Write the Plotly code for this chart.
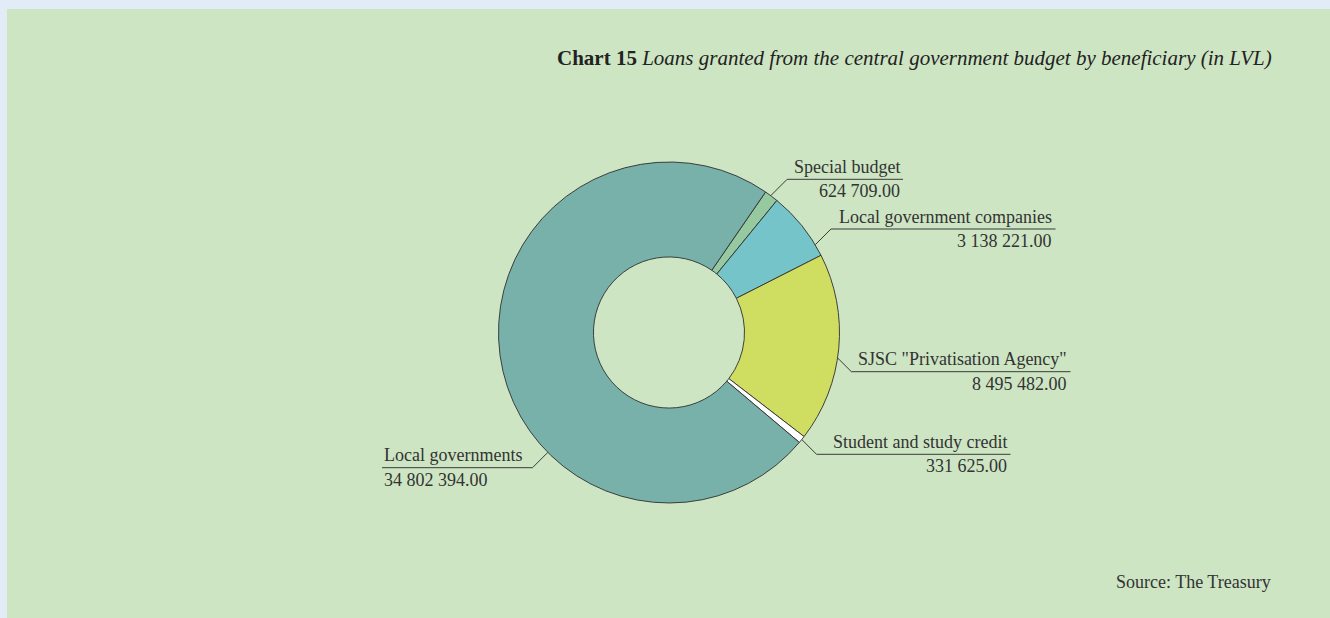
import math
import plotly.graph_objects as go

# Loans granted from the central government budget, by beneficiary (LVL)
beneficiaries = [
    "Special budget",
    "Local government companies",
    'SJSC "Privatisation Agency"',
    "Student and study credit",
    "Local governments",
]
amounts = [624709.00, 3138221.00, 8495482.00, 331625.00, 34802394.00]
slice_colors = ["#97c9a0", "#74c4c9", "#cfdd60", "#ffffff", "#77b1aa"]

W, H = 1330, 618
FONT = "Liberation Serif"
TEXT_COLOR = "#333333"

# donut geometry in pixels
CX, CY, R = 669.0, 332.5, 170.5
HOLE = 0.443
ROTATION = 34.5

# label layout: (position of anchor inside slice, underline y, line end x, side)
label_layout = [
    (0.45, 179.3, 903.0, "right"),
    (0.83, 229.0, 1055.5, "right"),
    (0.55, 371.7, 1070.5, "right"),
    (0.50, 454.3, 1010.5, "right"),
    (0.36, 467.7, 382.0, "left"),
]


def px(x):
    return x / W


def py(y):
    return 1 - y / H


def fmt(v):
    return f"{v:,.2f}".replace(",", " ")


fig = go.Figure()

fig.add_trace(go.Pie(
    labels=beneficiaries,
    values=amounts,
    sort=False,
    direction="clockwise",
    rotation=ROTATION,
    hole=HOLE,
    marker=dict(colors=slice_colors, line=dict(color="#2f2f2f", width=0.9)),
    textinfo="none",
    hoverinfo="label+value",
    showlegend=False,
    domain=dict(x=[px(CX - R), px(CX + R)], y=[py(CY + R), py(CY - R)]),
))

shapes = [
    # light frame and green panel
    dict(type="rect", xref="paper", yref="paper", x0=px(7), x1=1, y0=0, y1=py(9),
         fillcolor="#cde5c3", line=dict(width=0), layer="below"),
]
annotations = []

total = sum(amounts)
start = ROTATION
for name, val, (frac, uy, ex, side) in zip(beneficiaries, amounts, label_layout):
    span = 360.0 * val / total
    ang = math.radians(start + frac * span)
    start += span
    sx = CX + R * math.sin(ang)
    sy = CY - R * math.cos(ang)
    dy = uy - sy
    sign = 1 if side == "right" else -1
    elx = sx + sign * abs(dy)
    path = f"M {px(sx)} {py(sy)} L {px(elx)} {py(uy)} L {px(ex)} {py(uy)}"
    shapes.append(dict(type="path", xref="paper", yref="paper", path=path,
                       line=dict(color="#3a3a3a", width=1)))
    anchor = "right" if side == "right" else "left"
    tx = ex - 1.5 if side == "right" else ex
    annotations.append(dict(x=px(tx), y=py(uy - 12.5), xref="paper", yref="paper",
                            text=name, showarrow=False, xanchor=anchor, yanchor="middle",
                            font=dict(family=FONT, size=18, color=TEXT_COLOR)))
    annotations.append(dict(x=px(tx), y=py(uy + 12), xref="paper", yref="paper",
                            text=fmt(val), showarrow=False, xanchor=anchor, yanchor="middle",
                            font=dict(family=FONT, size=18, color=TEXT_COLOR)))

annotations.append(dict(
    x=px(1274), y=py(58), xref="paper", yref="paper", showarrow=False,
    xanchor="right", yanchor="middle",
    text="<b>Chart 15</b> <i>Loans granted from the central government budget by beneficiary (in LVL)</i>",
    font=dict(family=FONT, size=21, color="#222222"),
))
annotations.append(dict(
    x=px(1273), y=py(582), xref="paper", yref="paper", showarrow=False,
    xanchor="right", yanchor="middle", text="Source: The Treasury",
    font=dict(family=FONT, size=18, color=TEXT_COLOR),
))

fig.update_layout(
    width=W, height=H,
    margin=dict(l=0, r=0, t=0, b=0),
    paper_bgcolor="#e1ecf6",
    plot_bgcolor="#cde5c3",
    shapes=shapes,
    annotations=annotations,
)

fig.write_html("out.html")
